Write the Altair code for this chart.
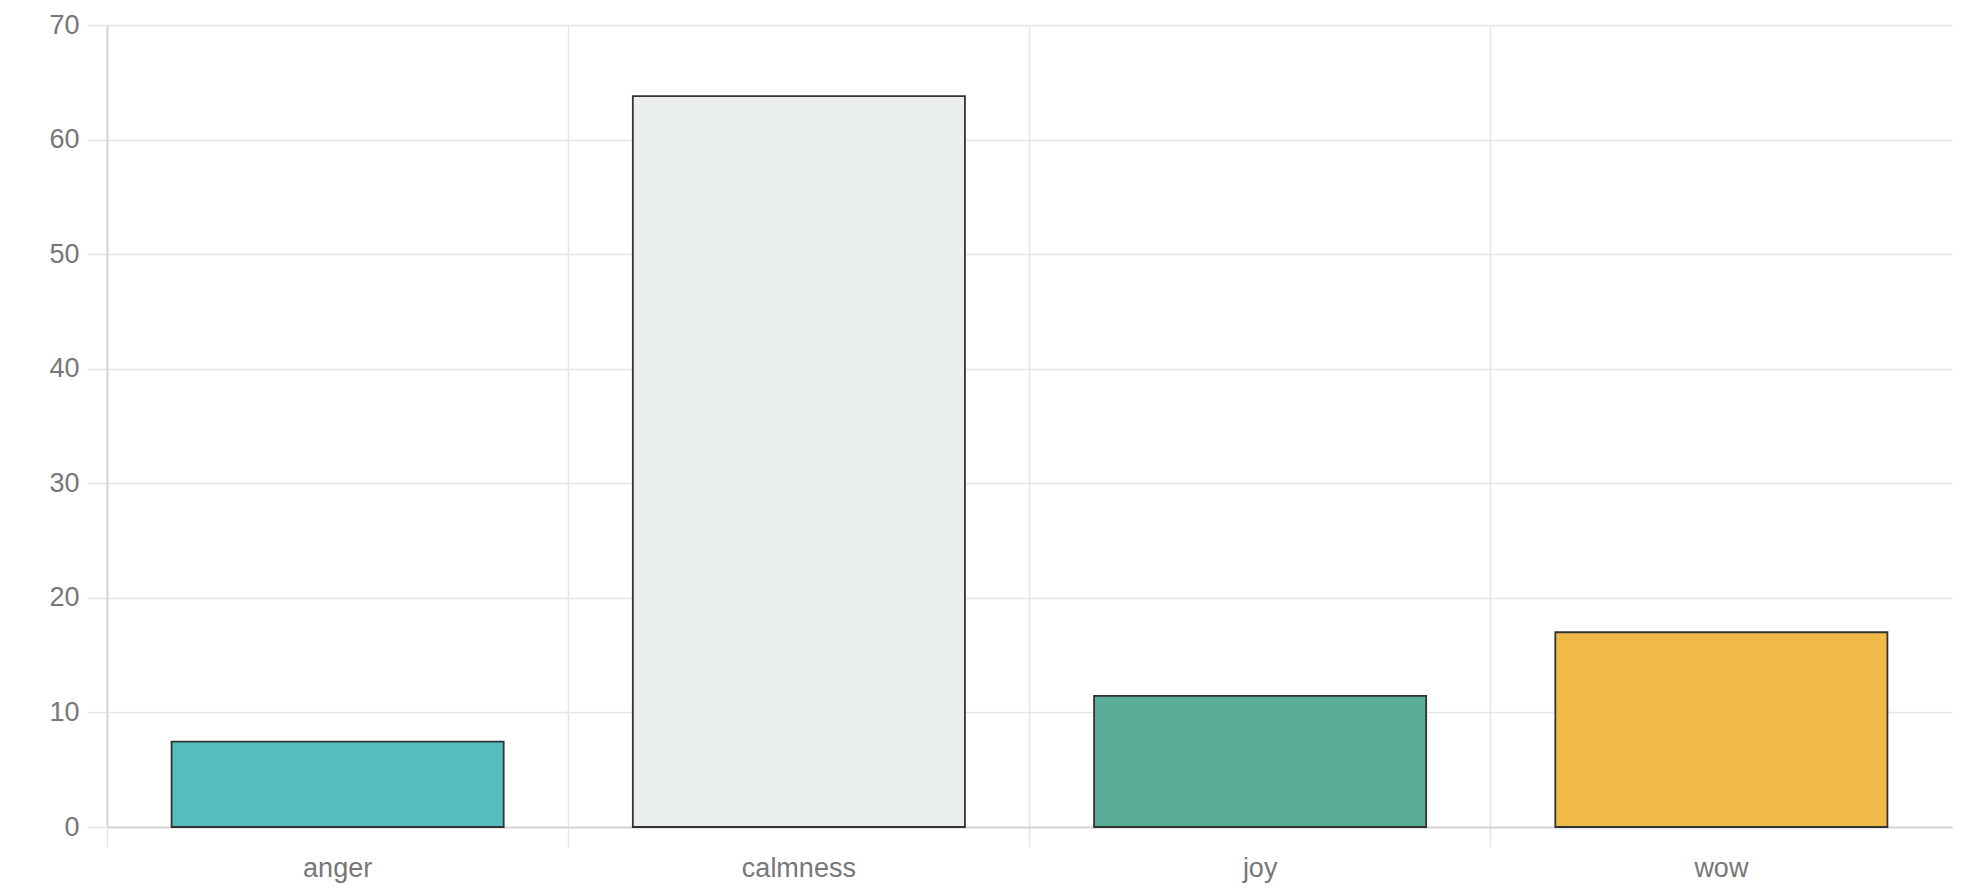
import altair as alt
import pandas as pd

categories = ["anger", "calmness", "joy", "wow"]
values = [7.45, 63.8, 11.45, 17.0]
colors = ["#56BDBF", "#EAEEEF", "#59AD96", "#EFBA48"]
y_ticks = [0, 10, 20, 30, 40, 50, 60, 70]

df = pd.DataFrame({"emotion": categories, "value": values})

FONT = "Liberation Sans"
LABEL_COLOR = "#777777"
GRID = "#e6e6e6"
AXIS = "#d6d6d6"

chart = alt.Chart(df).mark_bar(
    width=alt.RelativeBandSize(0.72),
    stroke="#333333",
    strokeWidth=1.8,
).encode(
    x=alt.X(
        "emotion:N",
        sort=categories,
        title=None,
        scale=alt.Scale(paddingInner=0, paddingOuter=0),
        axis=alt.Axis(
            bandPosition=0,
            labelAngle=0,
            labelAlign="center",
            labelFont=FONT,
            labelFontSize=27,
            labelColor=LABEL_COLOR,
            labelPadding=8,
            tickSize=20,
            tickColor=GRID,
            tickWidth=1.5,
            grid=True,
            gridColor=GRID,
            gridWidth=1.5,
            domainColor=AXIS,
            domainWidth=2,
        ),
    ),
    y=alt.Y(
        "value:Q",
        title=None,
        scale=alt.Scale(domain=[0, 70], nice=False),
        axis=alt.Axis(
            values=y_ticks,
            labelFont=FONT,
            labelFontSize=27,
            labelColor=LABEL_COLOR,
            labelPadding=8,
            tickSize=20,
            tickColor=GRID,
            tickWidth=1.5,
            grid=True,
            gridColor=GRID,
            gridWidth=1.5,
            domainColor=AXIS,
            domainWidth=2,
        ),
    ),
    color=alt.Color(
        "emotion:N",
        scale=alt.Scale(domain=categories, range=colors),
        legend=None,
    ),
).properties(
    width=1845,
    height=802,
    autosize=alt.AutoSizeParams(type="none"),
    padding={"left": 99, "top": 17, "right": 3, "bottom": 60},
).configure_view(stroke=None)

chart.save("out.html", embed_options={"renderer": "svg", "actions": False})
